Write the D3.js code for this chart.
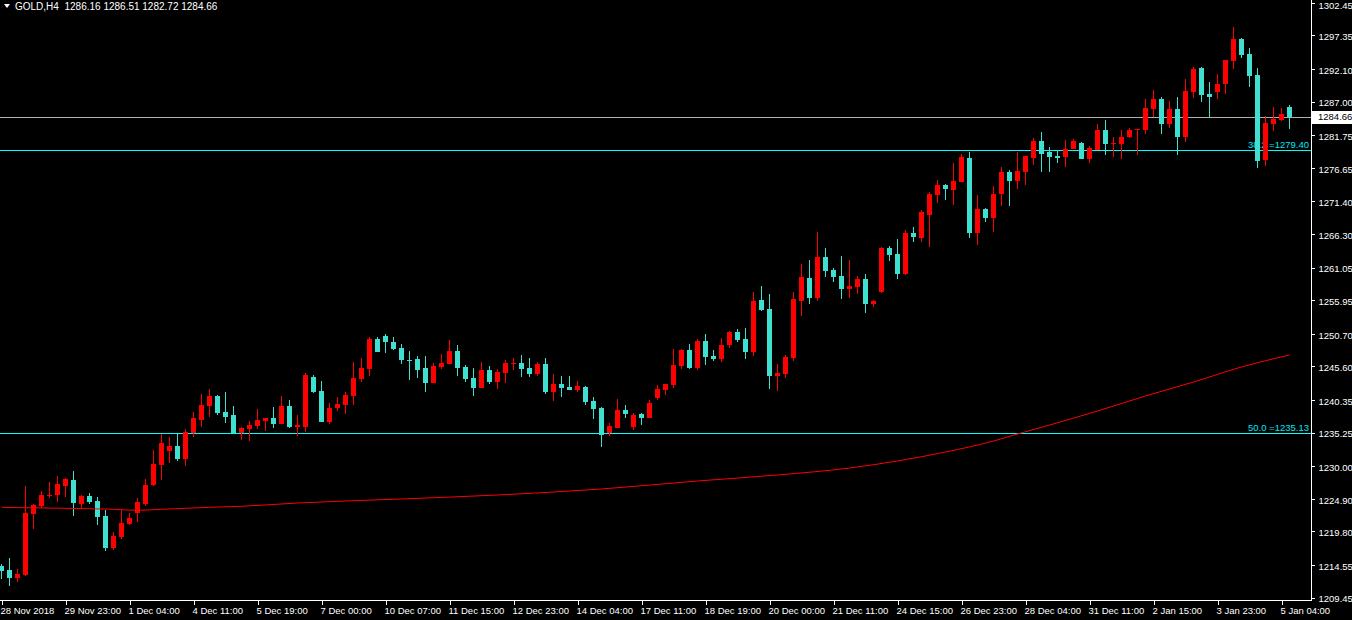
<!DOCTYPE html>
<html><head><meta charset="utf-8">
<script src="https://cdn.jsdelivr.net/npm/d3@7"></script>
<style>html,body{margin:0;padding:0;background:#000;overflow:hidden}
text{font-family:"Liberation Sans",Arial,sans-serif}</style>
</head><body>
<svg id="c" width="1352" height="620"></svg>
<script>
const symbol = "GOLD,H4";
const open = [
1214.48,1213.78,1212.53,1212.95,1222.58,1223.83,1225.35,1225.55,1226.95,1227.85,
1224.14,1225.35,1224.56,1222.22,1217.26,1218.98,1221.02,1222.73,1224.14,1227.06,
1230.24,1232.43,1233.16,1231.13,1235.24,1237.22,1239.41,1240.98,1238.43,1238.01,
1235.24,1235.82,1236.29,1237.07,1237.54,1236.60,1239.41,1236.18,1236.18,1243.95,
1241.76,1236.96,1239.15,1239.62,1241.02,1243.68,1245.24,1249.88,1250.35,1249.42,
1248.48,1246.65,1246.76,1245.35,1243.05,1245.51,1245.98,1248.06,1245.51,1243.79,
1242.23,1245.04,1243.16,1244.62,1246.02,1246.13,1245.35,1244.41,1245.98,1241.60,
1242.85,1242.38,1241.91,1242.38,1240.19,1239.10,1235.19,1235.97,1238.79,1236.13,
1238.16,1237.54,1240.66,1241.91,1242.69,1245.66,1248.17,1245.35,1249.57,1247.23,
1246.76,1248.95,1250.98,1249.88,1247.85,1255.98,1254.57,1244.10,1244.41,1246.92,
1255.82,1259.42,1256.29,1262.70,1260.67,1259.73,1257.70,1258.01,1259.26,1255.36,
1257.23,1264.11,1263.17,1260.04,1266.45,1265.67,1269.27,1272.39,1273.95,1273.17,
1274.42,1278.17,1266.45,1270.20,1268.80,1272.55,1275.99,1274.58,1275.99,1278.17,
1280.83,1279.11,1278.49,1278.33,1279.58,1280.52,1278.02,1279.42,1282.55,1280.36,
1280.36,1281.46,1282.55,1282.55,1285.83,1287.40,1283.49,1285.83,1281.46,1288.49,
1292.24,1288.18,1288.49,1289.74,1293.34,1296.77,1294.43,1291.15,1277.86,1283.49,
1284.11,1286.16];
const high = [
1214.72,1215.65,1213.94,1226.91,1224.09,1226.08,1227.53,1228.42,1228.11,1229.25,
1225.45,1225.77,1225.19,1223.16,1219.67,1223.16,1222.64,1225.08,1228.00,1232.54,
1235.04,1234.57,1235.04,1235.77,1238.47,1241.29,1242.07,1241.18,1241.60,1239.41,
1236.13,1237.07,1238.94,1237.49,1239.26,1240.98,1240.35,1238.01,1244.52,1244.26,
1243.32,1239.83,1240.82,1241.65,1246.29,1246.92,1250.20,1250.20,1250.67,1250.20,
1249.10,1248.01,1247.23,1247.23,1246.13,1247.54,1249.73,1248.95,1245.82,1245.35,
1246.29,1245.66,1245.20,1246.60,1246.92,1247.38,1246.92,1246.29,1246.92,1244.41,
1244.10,1244.10,1243.32,1242.54,1240.82,1239.26,1236.76,1240.51,1239.57,1238.32,
1238.32,1240.35,1242.69,1242.85,1248.32,1248.32,1249.10,1249.88,1250.67,1248.17,
1250.04,1251.13,1251.45,1251.60,1257.23,1258.17,1256.92,1245.98,1247.38,1257.23,
1261.61,1262.23,1266.61,1264.11,1260.98,1262.86,1262.23,1259.73,1260.04,1255.98,
1264.26,1264.42,1265.51,1266.92,1267.39,1270.05,1272.86,1274.74,1274.11,1277.39,
1278.80,1279.11,1272.39,1270.36,1273.80,1276.77,1276.30,1279.11,1278.49,1281.30,
1282.24,1279.89,1279.42,1280.99,1281.14,1280.68,1280.05,1283.49,1284.11,1281.46,
1282.55,1282.86,1282.71,1287.40,1288.80,1287.71,1287.08,1287.71,1290.52,1292.40,
1292.40,1290.05,1291.30,1293.49,1298.65,1296.93,1295.37,1292.24,1284.74,1286.15,
1285.99,1286.51];
const low = [
1212.37,1211.32,1211.95,1212.84,1220.19,1223.47,1225.03,1224.45,1225.24,1222.27,
1223.31,1224.14,1220.86,1216.80,1216.95,1218.58,1220.81,1221.33,1223.78,1226.91,
1227.85,1230.55,1230.82,1230.08,1234.61,1236.18,1237.74,1238.05,1236.76,1235.04,
1234.10,1233.94,1235.82,1235.50,1236.02,1236.60,1236.02,1234.77,1235.40,1241.49,
1236.96,1236.60,1238.63,1238.11,1239.57,1243.21,1244.10,1247.90,1247.74,1248.21,
1246.02,1243.52,1243.84,1241.65,1243.05,1245.24,1245.98,1244.10,1243.16,1240.98,
1242.23,1242.85,1242.07,1243.01,1245.04,1243.95,1243.95,1244.10,1241.29,1240.19,
1240.82,1241.91,1241.60,1239.57,1237.38,1233.00,1234.72,1235.97,1237.54,1235.66,
1236.44,1237.54,1240.35,1241.13,1242.23,1245.20,1245.20,1245.04,1245.82,1246.45,
1246.29,1248.48,1249.42,1246.76,1247.23,1254.26,1242.07,1241.76,1243.79,1246.45,
1253.48,1255.36,1255.82,1259.58,1258.79,1256.14,1256.29,1256.92,1253.95,1254.89,
1257.07,1262.08,1259.26,1259.89,1265.05,1265.05,1264.26,1271.14,1271.61,1270.83,
1274.42,1265.67,1264.58,1268.17,1266.61,1270.67,1270.67,1273.33,1273.95,1277.08,
1275.99,1275.99,1277.39,1276.77,1279.58,1278.02,1277.39,1279.42,1278.64,1278.33,
1278.02,1281.30,1278.64,1281.93,1284.58,1281.93,1282.86,1278.64,1280.68,1287.55,
1286.93,1284.43,1287.40,1288.18,1292.09,1293.80,1289.27,1276.61,1276.92,1282.40,
1283.96,1282.72];
const close = [
1213.62,1212.53,1213.15,1222.64,1223.89,1225.45,1225.50,1227.17,1228.00,1224.30,
1225.35,1224.45,1222.11,1217.26,1219.09,1221.08,1221.91,1224.41,1227.02,1230.35,
1233.63,1233.16,1231.13,1235.30,1237.54,1239.57,1240.98,1238.36,1237.69,1235.27,
1235.93,1236.44,1237.22,1237.49,1236.60,1239.41,1236.18,1236.44,1244.26,1241.65,
1236.96,1239.05,1239.72,1241.13,1243.79,1245.35,1249.88,1247.90,1249.46,1248.37,
1246.65,1246.56,1245.09,1243.05,1245.66,1246.13,1248.06,1245.35,1243.63,1242.23,
1245.04,1243.16,1244.73,1246.13,1246.13,1245.20,1244.41,1245.98,1241.60,1242.85,
1242.23,1241.91,1242.54,1240.04,1238.94,1234.88,1236.29,1238.79,1238.16,1238.01,
1237.54,1239.88,1242.07,1242.85,1245.82,1248.17,1245.35,1249.57,1247.07,1246.76,
1248.95,1250.98,1249.73,1247.85,1255.82,1254.42,1244.10,1244.57,1247.07,1256.14,
1259.58,1256.29,1262.70,1260.51,1259.58,1257.70,1258.17,1259.26,1255.36,1255.82,
1264.11,1263.01,1260.04,1266.45,1265.83,1269.73,1272.55,1273.95,1273.33,1274.58,
1278.33,1266.45,1270.20,1268.80,1272.55,1275.99,1274.58,1276.14,1278.49,1280.83,
1278.80,1278.33,1278.17,1279.58,1280.83,1278.02,1279.74,1282.55,1280.36,1280.52,
1281.46,1282.55,1282.71,1285.99,1287.40,1283.49,1285.83,1281.46,1288.65,1292.09,
1288.02,1287.71,1289.74,1293.49,1296.77,1294.27,1290.99,1277.71,1283.65,1284.27,
1285.05,1284.66];

const timeTickIdx = [0,8,16,24,32,40,48,56,64,72,80,88,96,104,112,120,128,136,144,152,160];
const timeTickLabels = ["28 Nov 2018","29 Nov 23:00","1 Dec 04:00","4 Dec 11:00","5 Dec 19:00",
"7 Dec 00:00","10 Dec 07:00","11 Dec 15:00","12 Dec 23:00","14 Dec 04:00","17 Dec 11:00",
"18 Dec 19:00","20 Dec 00:00","21 Dec 11:00","24 Dec 15:00","26 Dec 23:00","28 Dec 04:00",
"31 Dec 11:00","2 Jan 15:00","3 Jan 23:00","5 Jan 04:00"];
const priceTicks = [1302.45,1297.35,1292.10,1287.00,1281.75,1276.65,1271.40,1266.30,1261.05,
1255.95,1250.70,1245.60,1240.35,1235.25,1230.00,1224.90,1219.80,1214.55,1209.45];
const bidPrice = 1284.66;
const fiboLevels = ["38.2","50.0"];
const fiboPrices = [1279.40,1235.13];
const maIdx = [0,8,14,17,20,23,26,30,37,50,62,75,87,97,106,112,118,124,127,131,137,143,149,155,161];
const maVal = [1223.58,1223.42,1223.27,1223.11,1223.27,1223.42,1223.58,1223.74,1224.25,1224.88,
1225.50,1226.44,1227.69,1228.63,1229.72,1230.82,1232.22,1233.94,1235.04,1236.44,1238.63,
1240.98,1243.16,1245.51,1247.38];

const bullColor = "#ff0000", bearColor = "#40e0d0";
const plotRight = 1311.5, plotBottom = 600.5;
const n = open.length;

const svg = d3.select("#c");
svg.append("rect").attr("width",1352).attr("height",620).attr("fill","#000");

const x = d3.scaleLinear().domain([0, n-1]).range([1.5, 1289.5]);
const y = d3.scaleLinear().domain([1209.45, 1302.45]).range([597.7, 2.7]);

const plot = svg.append("g");

// bid line
plot.append("line").attr("x1",0).attr("x2",plotRight).attr("y1",Math.round(y(bidPrice))+0.5)
  .attr("y2",Math.round(y(bidPrice))+0.5).attr("stroke","#b0b0b0").attr("shape-rendering","crispEdges");

// fibo lines & labels
fiboPrices.forEach((p,i)=>{
  const yy = Math.round(y(p))+0.5;
  plot.append("line").attr("x1",0).attr("x2",plotRight).attr("y1",yy).attr("y2",yy)
    .attr("stroke","#00ffff").attr("shape-rendering","crispEdges");
  plot.append("text").attr("x",1309).attr("y",yy-2.5).attr("text-anchor","end")
    .attr("fill","#00e8f8").attr("font-size","9.5px")
    .text(fiboLevels[i]+" ="+p.toFixed(2));
});

// candles
const idx = d3.range(n);
const cg = plot.append("g").attr("shape-rendering","crispEdges");
cg.selectAll("line.w").data(idx).join("line")
  .attr("x1",i=>x(i)).attr("x2",i=>x(i))
  .attr("y1",i=>y(high[i])).attr("y2",i=>y(low[i]))
  .attr("stroke",i=>close[i]>=open[i]?bullColor:bearColor);
cg.selectAll("rect.b").data(idx).join("rect")
  .attr("x",i=>x(i)-2.5).attr("width",5)
  .attr("y",i=>y(Math.max(open[i],close[i])))
  .attr("height",i=>Math.max(1, Math.abs(y(open[i])-y(close[i]))))
  .attr("fill",i=>close[i]>=open[i]?bullColor:bearColor);

// moving average
const maPts = maIdx.map((d,i)=>[d, maVal[i]]);
plot.append("path").datum(maPts)
  .attr("d", d3.line().x(d=>x(d[0])).y(d=>y(d[1])).curve(d3.curveMonotoneX))
  .attr("fill","none").attr("stroke","#ff0000").attr("stroke-width",1);

// axes
svg.append("line").attr("x1",plotRight).attr("x2",plotRight).attr("y1",0).attr("y2",plotBottom)
  .attr("stroke","#fff").attr("shape-rendering","crispEdges");
svg.append("line").attr("x1",0).attr("x2",plotRight).attr("y1",plotBottom).attr("y2",plotBottom)
  .attr("stroke","#fff").attr("shape-rendering","crispEdges");

const yAxis = d3.axisRight(y).tickValues(priceTicks).tickFormat(d3.format(".2f")).tickSize(3).tickPadding(4);
const ya = svg.append("g").attr("transform",`translate(${plotRight},0)`).call(yAxis);
ya.select(".domain").remove();
ya.selectAll("line").attr("stroke","#fff").attr("shape-rendering","crispEdges");
ya.selectAll("text").attr("fill","#fff").attr("font-size","9.5px")
  .attr("dy",(d,i)=>i===0?"0.62em":"0.45em")
  .attr("font-family","Liberation Sans, Arial, sans-serif");

const xAxis = d3.axisBottom(x).tickValues(timeTickIdx).tickFormat((d,i)=>timeTickLabels[i]).tickSize(4).tickPadding(3);
const xa = svg.append("g").attr("transform",`translate(0,${plotBottom})`).call(xAxis);
xa.select(".domain").remove();
xa.selectAll("line").attr("stroke","#fff").attr("shape-rendering","crispEdges");
xa.selectAll("text").attr("fill","#fff").attr("font-size","9.5px").attr("text-anchor","start")
  .attr("dx","-1.5").attr("font-family","Liberation Sans, Arial, sans-serif");

// bid price tag
const by = y(bidPrice);
svg.append("rect").attr("x",1312).attr("y",Math.round(by)-6).attr("width",40).attr("height",13).attr("fill","#fff");
svg.append("text").attr("x",1318).attr("y",by).attr("dy","0.35em").attr("fill","#000")
  .attr("font-size","9.5px").text(bidPrice.toFixed(2));

// header
svg.append("path").attr("d","M4,4 L10,4 L7,8 Z").attr("fill","#fff");
svg.append("text").attr("x",15).attr("y",10).attr("fill","#fff").attr("font-size","10px")
  .text(symbol+"\u00a0 "+[open[n-1],high[n-1],low[n-1],close[n-1]].map(v=>v.toFixed(2)).join(" "));
</script>
</body></html>
